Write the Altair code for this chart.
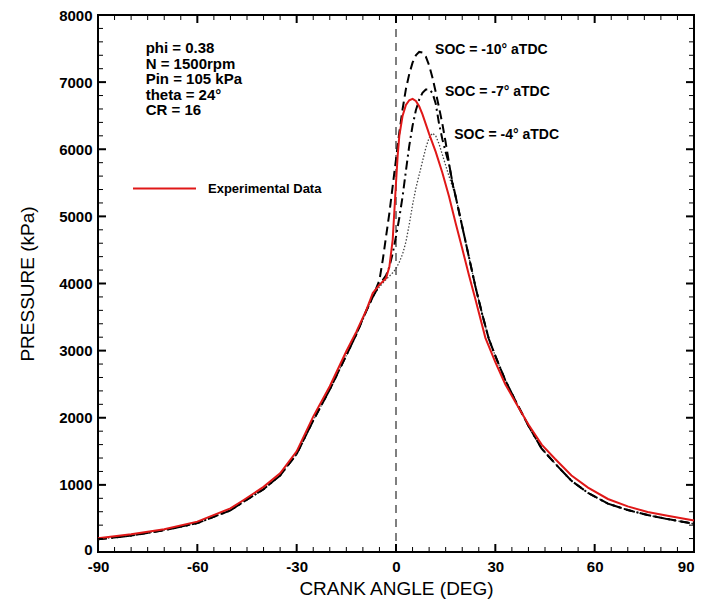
import altair as alt
import pandas as pd

W, H = 596, 537
FONT = "Liberation Sans"

# ---------------- data ----------------
# Experimental data (red)
exp_x = [-90, -80, -70, -60, -50, -46, -40, -35, -30, -25, -20, -15, -12, -9, -7, -5, -3, -2, -1, 0, 0.5, 1, 2, 3, 4,
         5, 6, 7, 8, 10, 12, 14, 16, 18, 20, 22, 24, 27, 30, 33, 36, 40, 44, 48, 53, 58, 64, 70, 76, 82, 90]
exp_p = [205, 265, 340, 452, 650, 775, 970, 1173, 1500, 2017, 2470, 2990, 3280, 3600, 3860, 3980, 4080, 4250, 4650,
         5500, 5900, 6200, 6500, 6660, 6730, 6750, 6720, 6640, 6520, 6230, 5960, 5650, 5300, 4900, 4520, 4130, 3760,
         3190, 2830, 2500, 2240, 1900, 1600, 1390, 1140, 960, 790, 680, 595, 540, 470]

# Model curves: common compression part (left) and common expansion part (right)
base_left_x = [-90, -80, -70, -60, -50, -46, -40, -35, -30, -25, -20, -15, -12, -9]
base_left_p = [190, 245, 325, 430, 620, 750, 935, 1140, 1460, 1960, 2420, 2930, 3240, 3590]
base_right_x = [18, 20, 22, 24, 26, 28, 30, 33, 36, 40, 44, 48, 53, 58, 64, 70, 76, 82, 90]
base_right_p = [5300, 4850, 4400, 3950, 3550, 3180, 2920, 2560, 2260, 1880, 1540, 1320, 1060, 880, 720, 625, 550,
                490, 420]

# SOC = -10 deg aTDC (dashed)
soc10_x = [-7, -5, -4, -3, -2, -1, 0, 1, 2, 3, 4, 5, 6, 7, 8, 9, 10, 11, 12, 13, 14, 15, 16, 17]
soc10_p = [3800, 4050, 4350, 4700, 5050, 5450, 5850, 6250, 6600, 6900, 7120, 7290, 7400, 7450, 7440, 7380, 7250,
           7070, 6850, 6620, 6380, 6100, 5800, 5500]
# SOC = -7 deg aTDC (dash-dot)
soc7_x = [-7, -5, -3, -2, -1, 0, 1, 2, 3, 4, 5, 6, 7, 8, 9, 10, 11, 12, 13, 14, 15, 16, 17]
soc7_p = [3800, 3980, 4120, 4250, 4450, 4700, 4980, 5300, 5680, 6050, 6350, 6580, 6740, 6840, 6890, 6890, 6840,
          6680, 6380, 6150, 5960, 5780, 5520]
# SOC = -4 deg aTDC (dotted)
soc4_x = [-7, -5, -3, -1, 0, 1, 2, 3, 4, 5, 6, 7, 8, 9, 10, 11, 12, 13, 14, 15, 16, 17]
soc4_p = [3800, 3950, 4060, 4160, 4220, 4320, 4440, 4620, 4880, 5170, 5420, 5620, 5820, 6020, 6170, 6240, 6200,
          6080, 5920, 5760, 5600, 5450]

# Annotations
soc_labels = ["SOC = -10° aTDC", "SOC = -7° aTDC", "SOC = -4° aTDC"]
soc_lab_x = [11.8, 14.8, 17.6]
soc_lab_p = [7481, 6860, 6210]
info_lines = ["phi = 0.38", "N = 1500rpm", "Pin = 105 kPa", "theta = 24°", "CR = 16"]
info_x = [-75.6]
info_p = [7430]
zero_line_x = [0]

# Axis ticks
x_major = [-90, -60, -30, 0, 30, 60, 90]
x_minor = [v for v in range(-85, 90, 5) if v % 30 != 0]
y_major = [0, 1000, 2000, 3000, 4000, 5000, 6000, 7000, 8000]
y_minor = [v for v in range(200, 8000, 200) if v % 1000 != 0]

# ---------------- chart ----------------
xscale = alt.Scale(domain=[-90, 90], nice=False, zero=False)
yscale = alt.Scale(domain=[0, 8000], nice=False, zero=False)

common_axis = dict(ticks=False, domain=False, grid=False, labelFont=FONT, labelFontSize=15,
                   labelFontWeight="bold", labelColor="black", titleFont=FONT, titleFontSize=19,
                   titleFontWeight="normal", titleColor="black", labelExpr="'' + datum.value")
x_axis = alt.Axis(values=x_major, title="CRANK ANGLE (DEG)", labelPadding=7, titlePadding=5,
                  labelAlign={"condition": {"test": "datum.value == 90", "value": "right"}, "value": "center"},
                  **common_axis)
y_axis = alt.Axis(values=y_major, title="PRESSURE (kPa)", labelPadding=6, titlePadding=21,
                  labelBaseline={"condition": {"test": "datum.value == 0", "value": "alphabetic"},
                                 "value": "middle"},
                  labelOffset={"condition": {"test": "datum.value == 0", "value": 2}, "value": 0},
                  **common_axis)

X = alt.X("x:Q", scale=xscale, axis=x_axis)
Y = alt.Y("p:Q", scale=yscale, axis=y_axis)


def frame(x, p):
    return pd.DataFrame({"x": x, "p": p})


soc10_df = frame(base_left_x + soc10_x + base_right_x, base_left_p + soc10_p + base_right_p)
soc7_df = frame(base_left_x + soc7_x + base_right_x, base_left_p + soc7_p + base_right_p)
soc4_df = frame(base_left_x + soc4_x + base_right_x, base_left_p + soc4_p + base_right_p)
exp_df = frame(exp_x, exp_p)
exp_df["s"] = "Experimental Data"

zero_rule = alt.Chart(pd.DataFrame({"x": zero_line_x})).mark_rule(
    color="#555555", strokeWidth=1.5, strokeDash=[8, 6]).encode(x=X)

l4 = alt.Chart(soc4_df).mark_line(color="#444444", strokeWidth=1.3, strokeDash=[1.5, 1.8]).encode(x=X, y=Y)
l7 = alt.Chart(soc7_df).mark_line(color="black", strokeWidth=2, strokeDash=[9, 4, 2, 4]).encode(x=X, y=Y)
l10 = alt.Chart(soc10_df).mark_line(color="black", strokeWidth=2, strokeDash=[9, 5]).encode(x=X, y=Y)
lexp = alt.Chart(exp_df).mark_line(strokeWidth=2).encode(
    x=X, y=Y,
    color=alt.Color("s:N", scale=alt.Scale(domain=["Experimental Data"], range=["#e01818"]),
                    legend=alt.Legend(title=None, orient="none", legendX=34, legendY=141,
                                      symbolType="stroke", symbolSize=3969, symbolStrokeWidth=2,
                                      labelFont=FONT, labelFontSize=13, labelFontWeight="bold",
                                      labelColor="black", labelOffset=11, padding=0)))

soc_text = alt.Chart(pd.DataFrame({"x": soc_lab_x, "p": soc_lab_p, "t": soc_labels})).mark_text(
    align="left", baseline="middle", font=FONT, fontSize=14, fontWeight="bold", color="black").encode(
    x=X, y=Y, text="t:N")

info_text = alt.Chart(frame(info_x, info_p)).mark_text(
    text=info_lines, align="left", baseline="alphabetic", lineHeight=15.5, font=FONT, fontSize=15,
    fontWeight="bold", color="black").encode(x=X, y=Y)


def xticks(vals, length, width):
    d = pd.DataFrame({"x": vals})
    bottom = alt.Chart(d).mark_rule(color="black", strokeWidth=width).encode(
        x=X, y=alt.value(H), y2=alt.value(H - length))
    top = alt.Chart(d).mark_rule(color="black", strokeWidth=width).encode(
        x=X, y=alt.value(0), y2=alt.value(length))
    return [bottom, top]


def yticks(vals, length, width):
    d = pd.DataFrame({"p": vals})
    left = alt.Chart(d).mark_rule(color="black", strokeWidth=width).encode(
        y=Y, x=alt.value(0), x2=alt.value(length))
    right = alt.Chart(d).mark_rule(color="black", strokeWidth=width).encode(
        y=Y, x=alt.value(W), x2=alt.value(W - length))
    return [left, right]


layers = [zero_rule, l4, l7, l10, lexp, soc_text, info_text]
layers += xticks(x_major, 8, 2) + xticks(x_minor, 5, 1)
layers += yticks(y_major, 8, 2) + yticks(y_minor, 5, 1)

chart = alt.layer(*layers).properties(
    width=W, height=H,
    padding={"left": 90, "top": 7, "right": 1, "bottom": 51},
    autosize=alt.AutoSizeParams(type="none"),
    background="white",
).configure_view(stroke="black", strokeWidth=2)

chart.save("out.html", embed_options={"renderer": "svg", "actions": False})
